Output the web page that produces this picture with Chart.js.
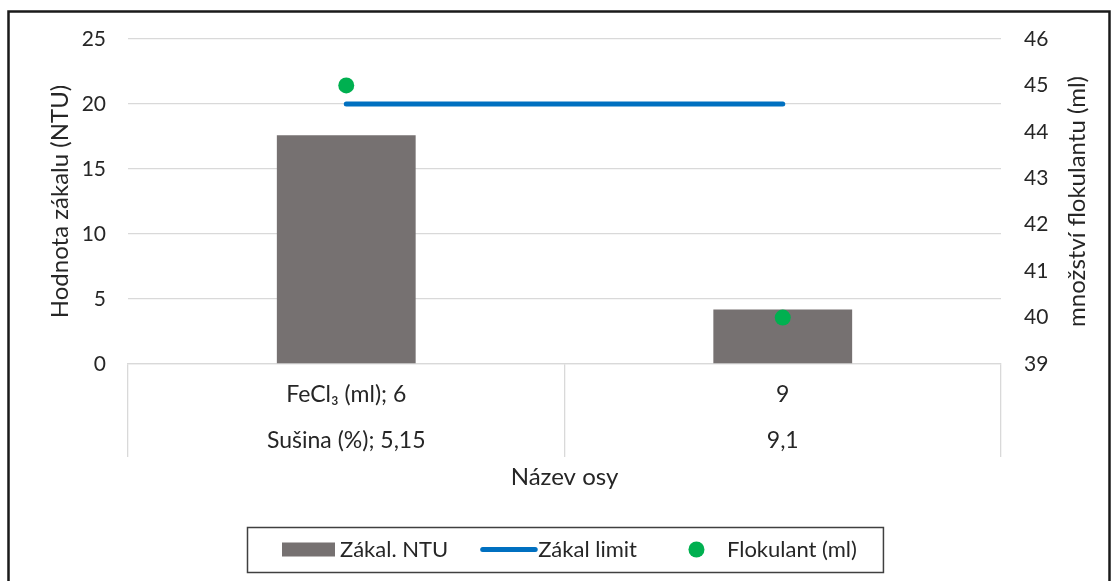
<!DOCTYPE html>
<html lang="cs">
<head>
<meta charset="utf-8">
<title>Zákal a flokulant</title>
<script src="https://cdn.jsdelivr.net/npm/chart.js@4.4.1/dist/chart.umd.min.js"></script>
<style>
  html, body { margin: 0; padding: 0; background: #fff; }
  canvas { display: block; }
</style>
</head>
<body>
<canvas id="graf" width="1111" height="581"></canvas>
<script>
// kategorie na ose x (dva radky popisku)
const kategorie = [
    ['FeCl₃ (ml); 6', 'Sušina (%); 5,15'],
    ['9', '9,1']
];
const zakalNTU = [17.6, 4.2];      // levá osa
const zakalLimit = [20, 20];       // levá osa
const flokulant = [45, 40];        // pravá osa (ml)

const levaOsa = { min: 0, max: 25, krok: 5 };
const pravaOsa = { min: 39, max: 46, krok: 1 };
const pravyTitulText = 'množství flokulantu (ml)';

const PISMO = 'Lato';
const TEXT = '#262626';
const MRIZKA = '#d9d9d9';

// bílé pozadí + rámeček kolem celého grafu
const ramecek = {
    id: 'ramecek',
    beforeDraw(chart) {
        const ctx = chart.ctx;
        ctx.save();
        ctx.fillStyle = '#fff';
        ctx.fillRect(0, 0, chart.width, chart.height);
        ctx.restore();
    },
    afterDraw(chart) {
        const ctx = chart.ctx;
        ctx.save();
        ctx.strokeStyle = '#1a1a1a';
        ctx.lineWidth = 2.5;
        ctx.strokeRect(8.5, 11.5, 1101, 620);
        ctx.restore();
    }
};

// titulek pravé osy čtený zdola nahoru (jako v Excelu)
const pravyTitul = {
    id: 'pravyTitul',
    afterDraw(chart) {
        const osa = chart.scales.y1;
        const ctx = chart.ctx;
        ctx.save();
        ctx.translate(osa.right - 34, (osa.top + osa.bottom) / 2);
        ctx.rotate(-Math.PI / 2);
        ctx.font = '24px ' + PISMO;
        ctx.fillStyle = TEXT;
        ctx.textAlign = 'center';
        ctx.textBaseline = 'middle';
        ctx.fillText(pravyTitulText, 0, 0);
        ctx.restore();
    }
};

// legenda v rámečku dole
const legenda = {
    id: 'legenda',
    afterDraw(chart) {
        const ctx = chart.ctx;
        const sady = chart.data.datasets;
        ctx.save();
        ctx.font = '22px ' + PISMO;
        const znackaW = 55, mezeraText = 3, mezeraPolozka = 32, padL = 35, padR = 26;
        const sirky = sady.map(d => ctx.measureText(d.label).width);
        const obsah = sirky.reduce((s, w) => s + w, 0) + sady.length * (znackaW + mezeraText) + (sady.length - 1) * mezeraPolozka;
        const stred = (chart.chartArea.left + chart.chartArea.right) / 2;
        const boxW = obsah + padL + padR;
        const boxL = Math.round(stred - boxW / 2);
        const boxT = 527, boxH = 45;
        const cy = boxT + boxH / 2;

        ctx.strokeStyle = '#404040';
        ctx.lineWidth = 1.5;
        ctx.strokeRect(boxL + 0.5, boxT + 0.5, boxW, boxH);

        let x = boxL + padL;
        sady.forEach((d, i) => {
            if (d.type === 'bar') {
                ctx.fillStyle = d.backgroundColor;
                ctx.fillRect(x, cy - 7, 53, 14);
            } else if (d.showLine === false) {
                ctx.fillStyle = d.backgroundColor;
                ctx.beginPath();
                ctx.arc(x + znackaW / 2, cy, 8, 0, Math.PI * 2);
                ctx.fill();
            } else {
                ctx.strokeStyle = d.borderColor;
                ctx.lineWidth = 5;
                ctx.lineCap = 'round';
                ctx.beginPath();
                ctx.moveTo(x + 2.5, cy);
                ctx.lineTo(x + znackaW, cy);
                ctx.stroke();
            }
            x += znackaW + mezeraText;
            ctx.fillStyle = TEXT;
            ctx.textBaseline = 'middle';
            ctx.textAlign = 'left';
            ctx.fillText(d.label, x, cy);
            x += sirky[i] + mezeraPolozka;
        });
        ctx.restore();
    }
};

function kresli() {
    const ctx = document.getElementById('graf');
    new Chart(ctx, {
        type: 'bar',
        data: {
            labels: kategorie,
            datasets: [
                {
                    type: 'bar',
                    label: 'Zákal. NTU',
                    data: zakalNTU,
                    yAxisID: 'y',
                    backgroundColor: '#767171',
                    borderWidth: 0,
                    categoryPercentage: 1,
                    barPercentage: 0.318,
                    order: 3
                },
                {
                    type: 'line',
                    label: 'Zákal limit',
                    data: zakalLimit,
                    yAxisID: 'y',
                    borderColor: '#0070C0',
                    backgroundColor: '#0070C0',
                    borderWidth: 5,
                    borderCapStyle: 'round',
                    pointRadius: 0,
                    fill: false,
                    order: 2
                },
                {
                    type: 'line',
                    label: 'Flokulant (ml)',
                    data: flokulant,
                    yAxisID: 'y1',
                    showLine: false,
                    backgroundColor: '#00B050',
                    borderColor: '#00B050',
                    pointRadius: 8,
                    pointBorderWidth: 0,
                    order: 1
                }
            ]
        },
        options: {
            responsive: false,
            animation: false,
            devicePixelRatio: 1,
            layout: { padding: { left: 0, right: 0, top: 39, bottom: 87 } },
            plugins: {
                legend: { display: false },
                tooltip: { enabled: false }
            },
            scales: {
                x: {
                    offset: true,
                    grid: {
                        offset: true,
                        drawOnChartArea: false,
                        drawTicks: true,
                        tickLength: 93,
                        color: MRIZKA,
                        lineWidth: 1.3
                    },
                    border: { display: true, color: MRIZKA, width: 1.3 },
                    ticks: {
                        color: TEXT,
                        font: { family: PISMO, size: 23, lineHeight: 2 },
                        padding: -85,
                        maxRotation: 0,
                        autoSkip: false
                    },
                    title: {
                        display: true,
                        text: 'Název osy',
                        color: TEXT,
                        font: { family: PISMO, size: 24 },
                        padding: { top: 0, bottom: 2 }
                    },
                    afterFit(scale) { scale.height = 130; }
                },
                y: {
                    position: 'left',
                    min: levaOsa.min,
                    max: levaOsa.max,
                    ticks: {
                        stepSize: levaOsa.krok,
                        color: TEXT,
                        font: { family: PISMO, size: 21 },
                        padding: 22
                    },
                    grid: { color: MRIZKA, lineWidth: 1.3, drawTicks: false },
                    border: { display: false },
                    title: {
                        display: true,
                        text: 'Hodnota zákalu (NTU)',
                        color: TEXT,
                        font: { family: PISMO, size: 24 },
                        padding: { top: 46, bottom: 0 }
                    },
                    afterFit(scale) { scale.width = 128; }
                },
                y1: {
                    position: 'right',
                    min: pravaOsa.min,
                    max: pravaOsa.max,
                    ticks: {
                        stepSize: pravaOsa.krok,
                        color: TEXT,
                        font: { family: PISMO, size: 21 },
                        padding: 23
                    },
                    grid: { drawOnChartArea: false, drawTicks: false },
                    border: { display: false },
                    afterFit(scale) { scale.width = 110; }
                }
            }
        },
        plugins: [ramecek, pravyTitul, legenda]
    });
}

if (document.fonts && document.fonts.load) {
    document.fonts.load('23px ' + PISMO).then(kresli, kresli);
} else {
    kresli();
}
</script>
</body>
</html>
